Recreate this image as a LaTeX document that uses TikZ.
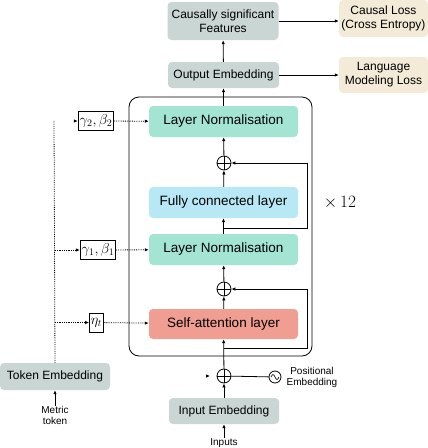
\documentclass[tikz,border=0pt]{standalone}
\usepackage{fontspec}
\setsansfont{Liberation Sans}
\usetikzlibrary{arrows.meta,calc}

\definecolor{embgray}{RGB}{201,214,212}
\definecolor{lossbeige}{RGB}{243,235,215}
\definecolor{normteal}{RGB}{163,228,211}
\definecolor{fcblue}{RGB}{184,232,246}
\definecolor{attnred}{RGB}{240,157,146}

\tikzset{
  graybox/.style={fill=embgray, rounded corners=4pt, align=center, inner sep=0pt,
    font=\sffamily\fontsize{12}{14}\selectfont},
  lossbox/.style={graybox, fill=lossbeige},
  layerbox/.style={rounded corners=4pt, inner sep=0pt, minimum width=149pt, minimum height=31pt,
    font=\sffamily\fontsize{13.5}{15}\selectfont},
  parbox/.style={draw, line width=0.8pt, inner sep=1.5pt, minimum height=19pt,
    font=\fontsize{14}{16}\selectfont},
  plusnode/.style={circle, draw, line width=0.8pt, minimum size=14pt, inner sep=0pt,
    path picture={\draw[line width=0.8pt] (path picture bounding box.north) -- (path picture bounding box.south)
      (path picture bounding box.west) -- (path picture bounding box.east);}},
  smalltext/.style={align=center, inner sep=0pt, font=\sffamily\fontsize{10}{11}\selectfont},
  arw/.style={line width=0.8pt, -{Latex[length=4pt,width=3.5pt]}},
  dotline/.style={line width=0.8pt, densely dotted},
  dotarw/.style={dotline, -{Latex[length=4pt,width=3.5pt]}}
}

\begin{document}
\begin{tikzpicture}[x=1pt,y=-1pt]
	\useasboundingbox (0,0) rectangle (428,448);

	% output side
	\node[graybox, minimum width=111pt, minimum height=38pt] (causal) at (223,21) {Causally significant\\Features};
	\node[lossbox, minimum width=89pt, minimum height=37pt] (closs) at (383.5,18.5) {Causal Loss\\(Cross Entropy)};
	\node[graybox, minimum width=111pt, minimum height=26pt] (outemb) at (223.5,75) {Output Embedding};
	\node[lossbox, minimum width=89pt, minimum height=36pt] (lmloss) at (383.5,75) {Language\\Modeling Loss};

	% the repeated block
	\draw[line width=0.8pt, rounded corners=10pt] (129,97) rectangle (312,356);
	\node[layerbox, fill=normteal] (ln2) at (223.5,121.5) {Layer Normalisation};
	\node[plusnode] (plusA) at (224,163) {};
	\node[layerbox, fill=fcblue] (fc) at (223.5,202.5) {Fully connected layer};
	\node[layerbox, fill=normteal] (ln1) at (223.5,249.5) {Layer Normalisation};
	\node[plusnode] (plusB) at (224,289) {};
	\node[layerbox, fill=attnred, minimum height=30pt] (sa) at (223.5,324) {Self-attention layer};
	\node[font=\fontsize{18}{20}\selectfont] (times) at (340,203) {$\times\,12$};

	% input side
	\node[plusnode] (plusC) at (224,376) {};
	\node[circle, draw, line width=0.8pt, minimum size=12pt, inner sep=0pt] (posenc) at (275,377) {};
	\draw[line width=0.6pt] ($(posenc)+(-4,0)$) sin ++(2,-2.5) cos ++(2,2.5) sin ++(2,2.5) cos ++(2,-2.5);
	\node[smalltext] (postext) at (312,377) {Positional\\Embedding};
	\node[graybox, minimum width=110pt, minimum height=26pt] (inemb) at (224,411) {Input Embedding};
	\node[smalltext] (inputs) at (224,443) {Inputs};

	% metric token and its parameters
	\node[graybox, minimum width=110pt, minimum height=27pt] (tokemb) at (55,376.5) {Token Embedding};
	\node[smalltext] (metric) at (55,415) {Metric\\token};
	\node[parbox] (g2) at (96,121) {$\gamma_2,\beta_2$};
	\node[parbox] (g1) at (98,250) {$\gamma_1,\beta_1$};
	\node[parbox] (eta) at (96.5,322.5) {$\eta_t$};
	\coordinate (dtop) at (54,120);

	% main path
	\draw[arw] (inputs) -- (inemb);
	\draw[arw] (inemb) -- (plusC);
	\draw[arw] (plusC) -- (sa);
	\draw[arw] (sa) -- (plusB);
	\draw[arw] (plusB) -- (ln1);
	\draw[arw] (ln1) -- (fc);
	\draw[arw] (fc) -- (plusA);
	\draw[arw] (plusA) -- (ln2);
	\draw[arw] (ln2) -- (outemb);
	\draw[arw] (outemb) -- (causal);
	\draw[arw] (outemb) -- (lmloss);
	\draw[arw] (causal.east) -- (causal.east -| closs.west);
	\draw[line width=0.8pt] (plusC) -- (posenc);

	% residual connections
	\coordinate (resA) at (224,228);
	\coordinate (resB) at (224,348);
	\draw[arw] (resA) -- ++(83,0) |- (plusA.east);
	\draw[arw] (resB) -- ++(83,0) |- (plusB.east);

	% stray arrow heads
	\coordinate (stubC) at (206,376);
	\draw[arw] (stubC) -- ++(4,0);
	\draw[arw] ($(g2.west)+(-4,0)$) -- (g2.west);

	% dotted conditioning lines
	\draw[arw] (metric) -- (tokemb);
	\draw[dotline] (tokemb.north) -- (dtop);
	\draw[dotarw] (tokemb.north |- g1) -- (g1.west);
	\draw[dotarw] (tokemb.north |- eta) -- (eta.west);
	\draw[dotarw] (g2) -- (ln2);
	\draw[dotarw] (g1) -- (ln1);
	\draw[dotarw] (eta) -- (sa);
\end{tikzpicture}
\end{document}
